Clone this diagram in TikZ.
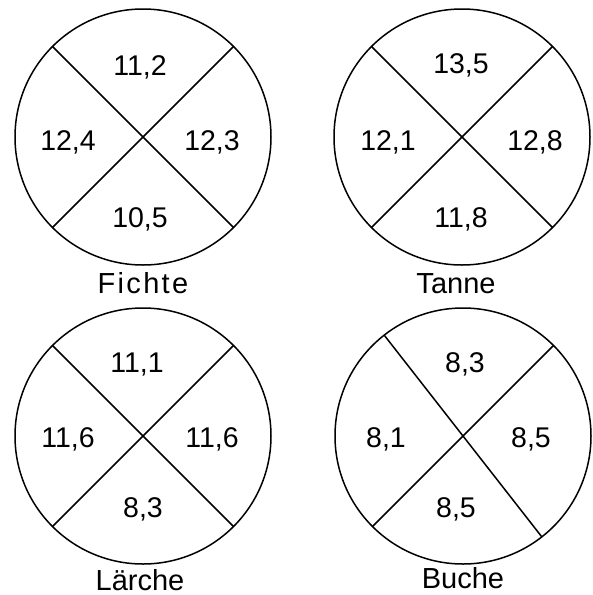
\documentclass[tikz,border=0pt]{standalone}
\usepackage{fontspec}
\setmainfont{Liberation Sans}
\tikzset{
    woodcircle/.style={
        draw,
        circle,
        line width=1.5pt,
        minimum size=256pt,
        inner sep=0pt,
        outer sep=0pt
    },
    crossline/.style={
        line width=1.5pt
    },
    valuetext/.style={
        font=\fontsize{28.5}{28.5}\selectfont,
        anchor=base,
        inner sep=0pt
    },
    woodname/.style={
        font=\fontsize{29}{29}\selectfont,
        anchor=base,
        inner sep=0pt
    }
}

\begin{document}
\begin{tikzpicture}[x=1pt,y=-1pt]

\useasboundingbox (0,0) rectangle (593,595);

% ---------------------------------------------------------
% Circles
% ---------------------------------------------------------
\foreach \name/\x/\y in {
    fichte/143/137,
    tanne/462/137,
    laerche/143/436,
    buche/463/436
}
{
    \node[woodcircle] (\name) at (\x,\y) {};
}

% ---------------------------------------------------------
% Cross lines
% ---------------------------------------------------------
\foreach \name/\a/\b in {
    fichte/135/-45,
    tanne/135/-45,
    laerche/135/-45,
    buche/128/-52
}
{
    \draw[crossline] (\name.\a) -- (\name.\b);
    \draw[crossline] (\name.45) -- (\name.-135);
}

% ---------------------------------------------------------
% Values
% ---------------------------------------------------------
\foreach \name/\pos/\x/\y/\val in {
    fichte/top/140/75/{11,2},
    fichte/left/68/150/{12,4},
    fichte/right/212/150/{12,3},
    fichte/bottom/140/227/{10,5},
    tanne/top/461/73/{13,5},
    tanne/left/388/150/{12,1},
    tanne/right/535/150/{12,8},
    tanne/bottom/461/227/{11,8},
    laerche/top/137/372/{11,1},
    laerche/left/68/447/{11,6},
    laerche/right/212/447/{11,6},
    laerche/bottom/143/517/{8,3},
    buche/top/465/372/{8,3},
    buche/left/386/447/{8,1},
    buche/right/531/447/{8,5},
    buche/bottom/456/517/{8,5}
}
{
    \node[valuetext] (\name-\pos) at (\x,\y) {\val};
}

% ---------------------------------------------------------
% Names
% ---------------------------------------------------------
\node[woodname] (fichte-name) at (143,293) {\addfontfeature{LetterSpace=8}Fichte};
\node[woodname] (tanne-name) at (456,293) {Tanne};
\node[woodname] (laerche-name) at (140,590) {Lärche};
\node[woodname] (buche-name) at (463,588) {Buche};

\end{tikzpicture}
\end{document}
